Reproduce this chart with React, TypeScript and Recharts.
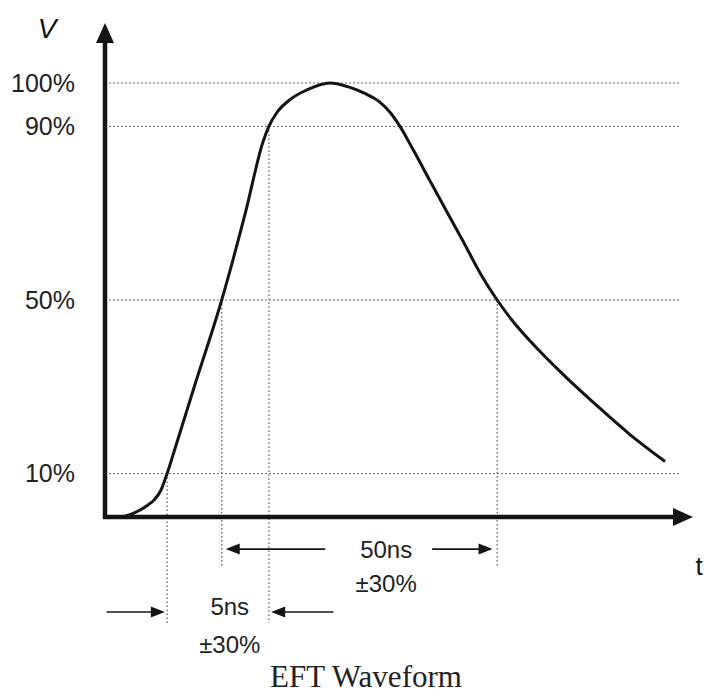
import { LineChart, Line, XAxis, YAxis, CartesianGrid, ReferenceLine, ReferenceDot } from "recharts"

// EFT pulse (t in arbitrary schematic units, v in % of peak)
const times = [3.1, 5.2, 7.3, 8.6, 9.7, 10.8, 12.3, 15.5, 20.3, 24.4, 27.5, 28.5, 29.9, 32.2, 35.1, 39.1, 42.6, 45.2, 47.8, 49.6, 51.3, 53.6, 56.5, 59.5, 62.3, 65.2, 68.2, 71.0, 73.9, 79.7, 85.6, 91.3, 97.4]
const volts = [0, 1.0, 2.6, 4.0, 6.1, 10, 16.3, 29.9, 50, 70, 86.5, 90, 93.2, 96.2, 98.4, 100, 99.0, 97.6, 95.6, 93.2, 90, 84.6, 77.5, 70.2, 63.5, 56.3, 50, 45.0, 40.6, 32.8, 25.6, 19.0, 12.8]

const levelTicks = [10, 50, 90, 100]

// dotted drop lines: 10% rise, 50% rise, 90% rise, 50% fall
const markerT = [10.8, 20.3, 28.5, 68.2]
const markerV = [10, 50, 90, 50]
const markerEnd = [-24.4, -11.5, -24.4, -11.5]

// dimension arrows (from -> tip)
const arrows = [
  { from: 38.3, to: 21.0, v: -7.4 },
  { from: 56.9, to: 67.4, v: -7.4 },
  { from: 0.3, to: 10.4, v: -21.9 },
  { from: 39.7, to: 28.9, v: -21.9 },
]

const notes = [
  { t: 48.9, v: -7.4, text: "50ns" },
  { t: 48.9, v: -15.4, text: "±30%" },
  { t: 21.7, v: -20.7, text: "5ns" },
  { t: 21.7, v: -29.3, text: "±30%" },
]

const data = times.map((t, i) => ({ t, v: volts[i] }))

const INK = "#141414"
const SANS = "'Liberation Sans', Arial, sans-serif"

function arrowShape(width: number, head: number, half: number) {
  return (p: any) => {
    const { x1, y1, x2, y2 } = p
    const dx = x2 - x1
    const dy = y2 - y1
    const len = Math.hypot(dx, dy) || 1
    const ux = dx / len
    const uy = dy / len
    const bx = x2 - ux * head
    const by = y2 - uy * head
    return (
      <g>
        <line x1={x1} y1={y1} x2={bx + ux} y2={by + uy} stroke={INK} strokeWidth={width} />
        <polygon
          points={`${x2},${y2} ${bx - uy * half},${by + ux * half} ${bx + uy * half},${by - ux * half}`}
          fill={INK}
        />
      </g>
    )
  }
}

const dimArrow = arrowShape(1.6, 14, 5.5)
const bigArrow = arrowShape(4.5, 20, 9)

const VAxis = (p: any) => {
  const x = p.x1
  const bottom = Math.max(p.y1, p.y2) + 2
  const top = Math.min(p.y1, p.y2) - 60
  return (
    <g>
      {bigArrow({ x1: x, y1: bottom, x2: x, y2: top })}
      <text x={x - 58} y={top + 15} fontSize={28} fontStyle="italic" fontFamily={SANS} fill={INK} textAnchor="middle">
        V
      </text>
    </g>
  )
}

const TAxis = (p: any) => {
  const y = p.y1
  const left = Math.min(p.x1, p.x2) - 2
  const right = Math.max(p.x1, p.x2) + 13
  return (
    <g>
      {bigArrow({ x1: left, y1: y, x2: right, y2: y })}
      <text x={right + 6} y={y + 58} fontSize={26} fontFamily={SANS} fill={INK} textAnchor="middle">
        t
      </text>
    </g>
  )
}

export default function App() {
  return (
    <div style={{ position: "absolute", left: 0, top: 0, width: 704, height: 700, background: "#fff" }}>
      <LineChart width={704} height={700} data={data} margin={{ top: 83, right: 24, bottom: 183, left: 25 }}>
        <CartesianGrid vertical={false} stroke="#666" strokeDasharray="2 2" />
        <XAxis type="number" dataKey="t" domain={[0, 100]} hide />
        <YAxis
          type="number"
          domain={[0, 100]}
          ticks={levelTicks}
          width={80}
          axisLine={false}
          tickLine={false}
          tickMargin={24}
          tickFormatter={(v) => `${v}%`}
          tick={{ fontSize: 25, fill: "#222", fontFamily: SANS }}
        />
        {markerT.map((t, i) => (
          <ReferenceLine
            key={"m" + i}
            segment={[{ x: t, y: markerV[i] }, { x: t, y: markerEnd[i] }]}
            ifOverflow="visible"
            stroke="#666"
            strokeWidth={1.3}
            strokeDasharray="1.5 2.5"
          />
        ))}
        <Line
          type="monotone"
          dataKey="v"
          stroke={INK}
          strokeWidth={3}
          dot={false}
          activeDot={false}
          isAnimationActive={false}
        />
        <ReferenceLine x={0} ifOverflow="visible" shape={VAxis} />
        <ReferenceLine y={0} ifOverflow="visible" shape={TAxis} />
        {arrows.map((a, i) => (
          <ReferenceLine
            key={"a" + i}
            segment={[{ x: a.from, y: a.v }, { x: a.to, y: a.v }]}
            ifOverflow="visible"
            shape={dimArrow}
          />
        ))}
        {notes.map((n, i) => (
          <ReferenceDot
            key={"n" + i}
            x={n.t}
            y={n.v}
            ifOverflow="visible"
            shape={(p: any) => (
              <text x={p.cx} y={p.cy} dy="0.36em" textAnchor="middle" fontSize={24} fontFamily={SANS} fill="#222">
                {n.text}
              </text>
            )}
          />
        ))}
      </LineChart>
      <div
        style={{
          position: "absolute",
          left: 166,
          width: 400,
          top: 661,
          textAlign: "center",
          fontFamily: "'Liberation Serif', 'Times New Roman', serif",
          fontSize: 31,
          lineHeight: "31px",
          color: "#222",
        }}
      >
        EFT Waveform
      </div>
    </div>
  )
}
